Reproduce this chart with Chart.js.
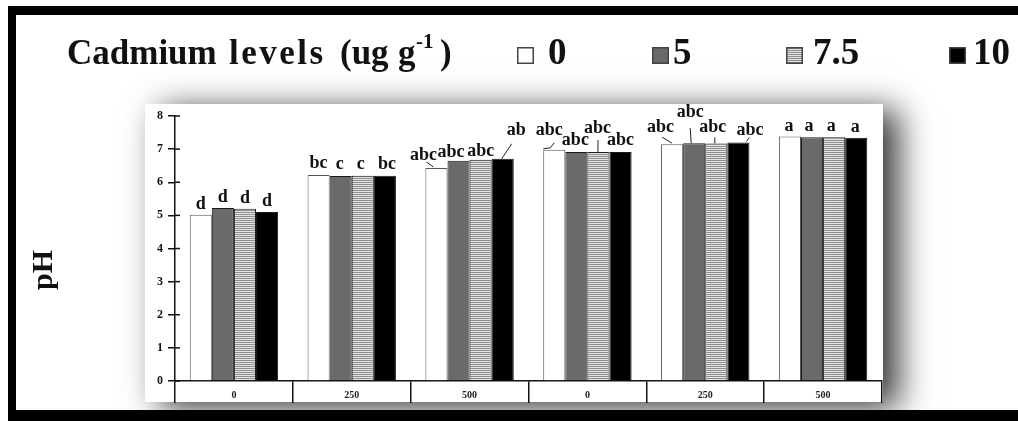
<!DOCTYPE html>
<html>
<head>
<meta charset="utf-8">
<script src="https://cdn.jsdelivr.net/npm/chart.js@4.4.1/dist/chart.umd.min.js"></script>
<style>
  html, body { margin: 0; padding: 0; background: #fff; }
  #wrap { width: 1018px; height: 421px; position: relative; }
</style>
</head>
<body>
<div id="wrap"><canvas id="c"></canvas></div>
<script>
// Soil application levels (x categories, two blocks)
const categories = ['0', '250', '500', '0', '250', '500'];

// Cadmium levels (ug g-1) – one series each
const seriesNames = ['0', '5', '7.5', '10'];

// pH values per cadmium level
const phCd0   = [5.02, 6.22, 6.43, 6.98, 7.15, 7.38];
const phCd5   = [5.22, 6.19, 6.65, 6.91, 7.18, 7.36];
const phCd7_5 = [5.20, 6.20, 6.68, 6.91, 7.17, 7.36];
const phCd10  = [5.10, 6.20, 6.71, 6.91, 7.20, 7.34];

// Significance letters per cadmium level
const lettersCd0   = ['d', 'bc', 'abc', 'abc', 'abc', 'a'];
const lettersCd5   = ['d', 'c',  'abc', 'abc', 'abc', 'a'];
const lettersCd7_5 = ['d', 'c',  'abc', 'abc', 'abc', 'a'];
const lettersCd10  = ['d', 'bc', 'ab',  'abc', 'abc', 'a'];

// y axis range and step
const yMin = 0, yMax = 8, yStep = 1;

const axisTitle = 'pH';
const legendTitle = ['Cadmium', 'levels', '(ug', 'g'];
const legendSup = '-1';
const legendClose = ')';

const SERIF = '"Liberation Serif", "Times New Roman", serif';

const ctx0 = document.getElementById('c').getContext('2d');

// horizontal hatch used by the 7.5 series
const hatchFill = ctx0.createPattern((() => {
  const p = document.createElement('canvas');
  p.width = 4; p.height = 2;
  const g = p.getContext('2d');
  g.fillStyle = '#8e8e8e'; g.fillRect(0, 0, 4, 1);
  g.fillStyle = '#e4e4e4'; g.fillRect(0, 1, 4, 1);
  return p;
})(), 'repeat');

// Placement of each significance letter relative to its bar (centre x, top y):
// dx, dy = baseline offset; lead = optional leader polyline [x1,y1,x2,y2,...]
const place = [
  // series 0
  [{dx:0,dy:-6},{dx:0,dy:-7},{dx:-13,dy:-8,lead:[-10,-6,-3,-1]},{dx:-5,dy:-15,lead:[-11,-1,-4,-2,0,-7]},{dx:-11.5,dy:-12,lead:[-10,-7,0,-1]},{dx:-1,dy:-6}],
  // series 1
  [{dx:0,dy:-6},{dx:-1,dy:-7},{dx:-7.5,dy:-4},{dx:-1,dy:-7},{dx:-4,dy:-26,lead:[-4,-15,-3,0]},{dx:-3,dy:-6}],
  // series 2
  [{dx:0,dy:-6},{dx:-2,dy:-7},{dx:0,dy:-4},{dx:-1,dy:-19,lead:[-0.5,-12,-0.5,0]},{dx:-3.5,dy:-11,lead:[-1.5,-6,-1.5,0]},{dx:-3,dy:-6}],
  // series 3
  [{dx:0,dy:-6},{dx:2,dy:-7},{dx:13.5,dy:-24,lead:[-1,0,9,-15]},{dx:0,dy:-7},{dx:11.5,dy:-8,lead:[8,-1,11,-5]},{dx:-1,dy:-6}]
];
const letters = [lettersCd0, lettersCd5, lettersCd7_5, lettersCd10];

const framePlugin = {
  id: 'framePlugin',
  beforeDraw(chart) {
    const { ctx, chartArea: a, width, height } = chart;
    ctx.save();
    ctx.fillStyle = '#fff';
    ctx.fillRect(0, 0, width, height);
    // plot panel with soft drop shadow
    ctx.shadowColor = 'rgba(0,0,0,0.8)';
    ctx.shadowBlur = 32;
    ctx.shadowOffsetX = 15;
    ctx.shadowOffsetY = 6;
    ctx.fillStyle = '#fff';
    ctx.fillRect(a.left - 30, a.top - 12, a.right - a.left + 31, a.bottom - a.top + 33);
    ctx.restore();
  },
  afterDraw(chart) {
    const { ctx, chartArea: a, width, height, scales } = chart;
    ctx.save();

    // inner half of the y tick marks
    ctx.strokeStyle = '#111';
    ctx.lineWidth = 1.5;
    scales.y.ticks.forEach(t => {
      const y = scales.y.getPixelForValue(t.value);
      ctx.beginPath();
      ctx.moveTo(a.left, y);
      ctx.lineTo(a.left + 5, y);
      ctx.stroke();
    });

    // outer black frame
    ctx.fillStyle = '#000';
    ctx.fillRect(8, 6, width - 8, 9);
    ctx.fillRect(8, 6, 8, height - 6);
    ctx.fillRect(8, 410, width - 8, height - 410);

    // legend title
    ctx.fillStyle = '#111';
    ctx.textBaseline = 'alphabetic';
    ctx.textAlign = 'left';
    ctx.font = 'bold 35px ' + SERIF;
    const tx = [67, 229, 340, 398];
    const ls = [0, 2.5, 0, 0];
    legendTitle.forEach((w, i) => {
      ctx.letterSpacing = ls[i] + 'px';
      ctx.fillText(w, tx[i], 64);
    });
    ctx.letterSpacing = '0px';
    ctx.font = 'bold 21px ' + SERIF;
    ctx.fillText(legendSup, 416, 48);
    ctx.font = 'bold 35px ' + SERIF;
    ctx.fillText(legendClose, 440, 64);

    // legend entries
    const sx = [517, 652, 786, 949];
    const lx = [548, 673, 813, 973];
    chart.data.datasets.forEach((ds, i) => {
      ctx.fillStyle = ds.backgroundColor;
      ctx.fillRect(sx[i], 47, 17, 17);
      ctx.strokeStyle = '#444';
      ctx.lineWidth = 1.5;
      ctx.strokeRect(sx[i] + 0.75, 47.75, 15.5, 15.5);
      ctx.fillStyle = '#111';
      ctx.font = 'bold 37px ' + SERIF;
      ctx.fillText(ds.label, lx[i], 64);
    });

    // y axis title
    ctx.save();
    ctx.translate(44, 270);
    ctx.rotate(-Math.PI / 2);
    ctx.textAlign = 'center';
    ctx.textBaseline = 'middle';
    ctx.font = 'bold 30px ' + SERIF;
    ctx.fillStyle = '#111';
    ctx.fillText(axisTitle, 0, 0);
    ctx.restore();

    ctx.restore();
  },
  afterDatasetsDraw(chart) {
    const { ctx } = chart;
    ctx.save();
    ctx.font = 'bold 18px ' + SERIF;
    ctx.textAlign = 'center';
    ctx.textBaseline = 'alphabetic';
    ctx.fillStyle = '#111';
    ctx.strokeStyle = '#222';
    ctx.lineWidth = 1;
    chart.data.datasets.forEach((ds, i) => {
      const meta = chart.getDatasetMeta(i);
      meta.data.forEach((bar, j) => {
        const p = place[i][j];
        ctx.fillText(letters[i][j], bar.x + p.dx, bar.y + p.dy);
        if (p.lead) {
          ctx.beginPath();
          for (let k = 0; k < p.lead.length; k += 2) {
            const px = bar.x + p.lead[k], py = bar.y + p.lead[k + 1];
            if (k === 0) ctx.moveTo(px, py); else ctx.lineTo(px, py);
          }
          ctx.stroke();
        }
      });
    });
    ctx.restore();
  }
};

const common = { borderWidth: 1, borderColor: '#1a1a1a', categoryPercentage: 0.75, barPercentage: 1.0 };

new Chart(ctx0, {
  type: 'bar',
  data: {
    labels: categories,
    datasets: [
      { label: seriesNames[0], data: phCd0,   backgroundColor: '#ffffff', ...common, borderColor: '#555' },
      { label: seriesNames[1], data: phCd5,   backgroundColor: '#6a6a6a', ...common },
      { label: seriesNames[2], data: phCd7_5, backgroundColor: hatchFill, ...common },
      { label: seriesNames[3], data: phCd10,  backgroundColor: '#000000', ...common }
    ]
  },
  options: {
    responsive: true,
    maintainAspectRatio: false,
    animation: false,
    layout: { padding: { left: 0, top: 116, right: 136, bottom: 18 } },
    plugins: { legend: { display: false }, tooltip: { enabled: false } },
    scales: {
      x: {
        grid: { offset: true, drawOnChartArea: false, tickLength: 22, color: '#111', lineWidth: 1.5 },
        border: { color: '#111', width: 1.5 },
        ticks: { padding: -14, maxRotation: 0, color: '#222', font: { family: SERIF, size: 10, weight: 'bold' } },
        afterFit(s) { s.height = 22; }
      },
      y: {
        min: yMin, max: yMax,
        ticks: { stepSize: yStep, padding: 5, color: '#111', font: { family: SERIF, size: 12, weight: 'bold' } },
        grid: { drawOnChartArea: false, tickLength: 7, color: '#111', lineWidth: 1.5 },
        border: { color: '#111', width: 1.5 },
        afterFit(s) { s.width = 175; }
      }
    }
  },
  plugins: [framePlugin]
});
</script>
</body>
</html>
